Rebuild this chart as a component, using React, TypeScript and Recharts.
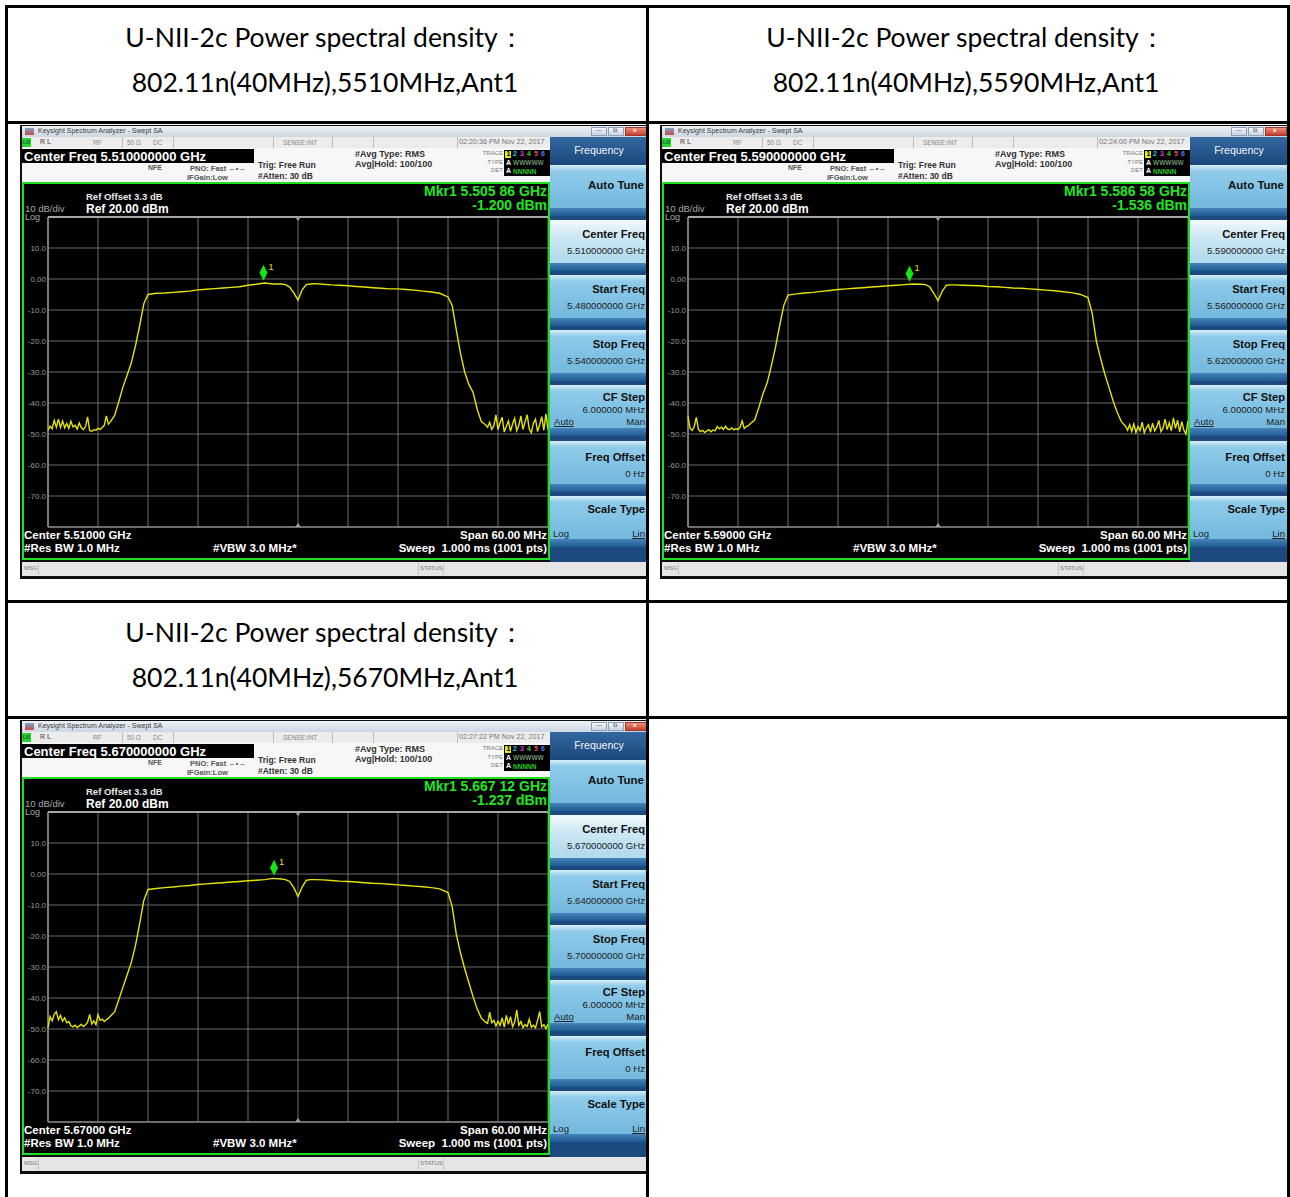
import React from 'react';
import { LineChart, Line, XAxis, YAxis, CartesianGrid, ReferenceDot, ReferenceLine } from 'recharts';

// frequency offsets from the centre, MHz (span 60 MHz)
const offsets = [
  -30, -29.75, -29.5, -29.25, -29, -28.75, -28.5, -28.25,
  -28, -27.75, -27.5, -27.25, -27, -26.75, -26.5, -26.25,
  -26, -25.75, -25.5, -25.25, -25, -24.75, -24.5, -24.25,
  -24, -23.75, -23.5, -23.25, -23, -22.75, -22.5,
  -22, -21.5, -21, -20.5, -20, -19.5, -19, -18.5, -18,
  -17, -16, -15, -14, -13, -12, -11, -10, -9, -8, -7, -6, -5, -4, -3, -2,
  -1.5, -1, -0.5, 0, 0.5, 1, 1.5,
  2, 3, 4, 5, 6, 7, 8, 9, 10, 11, 12, 13, 14, 15, 16, 17,
  18, 18.5, 19, 19.5, 20, 20.5, 21, 21.5, 22,
  22.5, 22.75, 23, 23.25, 23.5, 23.75, 24, 24.25, 24.5, 24.75,
  25, 25.25, 25.5, 25.75, 26, 26.25, 26.5, 26.75, 27, 27.25,
  27.5, 27.75, 28, 28.25, 28.5, 28.75, 29, 29.25, 29.5, 29.75, 30,
];

// dBm readings, 5510 MHz
const trace5510 = [
  -48.8, -47.5, -48.3, -45.6, -47.8, -45.2, -47.9, -45.8,
  -48.0, -46.6, -48.2, -45.9, -47.7, -47.2, -48.4, -46.4,
  -47.9, -48.6, -47.6, -44.5, -48.9, -49.1, -48.6, -48.8,
  -48.2, -48.5, -47.9, -47.2, -44.2, -46.8, -46.0,
  -44.0, -39.5, -34.8, -31.0, -27.0, -21.5, -15.0, -8.0, -5.0,
  -4.6, -4.5, -4.3, -4.1, -3.9, -3.5, -3.3, -3.1, -2.9, -2.7, -2.5, -2.0, -1.7, -1.3, -1.6, -1.6,
  -1.8, -2.6, -4.5, -6.8, -3.5, -1.8, -1.6,
  -1.5, -1.7, -1.9, -2.0, -2.2, -2.4, -2.6, -2.8, -3.0, -3.2, -3.2, -3.4, -3.6, -3.9, -4.2, -4.6,
  -5.8, -8.5, -16.5, -24.0, -30.0, -34.0, -36.5, -42.0, -46.0,
  -47.0, -47.8, -46.2, -48.5, -47.4, -43.8, -48.6, -46.4, -44.6, -49.4,
  -47.5, -45.8, -49.1, -46.8, -45.0, -48.9, -47.2, -44.2, -48.5, -46.0,
  -43.8, -48.4, -49.6, -46.5, -45.2, -49.2, -47.0, -44.4, -48.8, -43.5, -48.5,
];

// dBm readings, 5590 MHz
const trace5590 = [
  -44.3, -48.2, -48.8, -47.6, -44.6, -48.5, -49.2, -48.8,
  -49.5, -49.0, -48.6, -49.3, -48.7, -49.0, -47.6, -48.3,
  -47.8, -48.5, -47.5, -48.4, -48.6, -48.0, -48.7, -48.3,
  -48.5, -47.8, -45.8, -48.2, -47.6, -47.3, -46.6,
  -45.5, -41.5, -37.0, -33.5, -28.0, -22.0, -15.0, -8.5, -5.2,
  -4.8, -4.5, -4.3, -4.0, -3.7, -3.4, -3.2, -3.0, -2.8, -2.6, -2.4, -2.2, -2.0, -1.8, -1.6, -1.7,
  -1.8, -2.5, -4.6, -7.0, -4.0, -2.0, -1.9,
  -1.9, -2.0, -2.1, -2.2, -2.4, -2.5, -2.7, -2.9, -3.0, -3.2, -3.4, -3.6, -3.8, -4.1, -4.4, -4.9,
  -6.0, -11.0, -20.0, -25.5, -30.5, -34.8, -39.2, -43.0, -46.0,
  -47.5, -48.8, -47.0, -49.2, -46.8, -49.5, -47.6, -48.9, -46.2, -49.6,
  -48.0, -47.0, -49.4, -46.5, -49.0, -47.8, -45.6, -49.2, -48.1, -45.2,
  -48.6, -46.4, -49.0, -44.8, -48.2, -45.5, -49.3, -46.0, -48.7, -50.0, -45.8,
];

// dBm readings, 5670 MHz
const trace5670 = [
  -49.6, -46.0, -47.4, -45.2, -44.4, -47.0, -45.6, -47.5,
  -46.4, -48.0, -47.6, -48.9, -49.3, -48.8, -49.5, -49.0,
  -48.5, -49.2, -48.6, -47.9, -45.3, -48.4, -47.4, -48.6,
  -45.4, -47.2, -46.8, -47.6, -47.0, -46.6, -45.8,
  -44.5, -40.5, -36.5, -32.5, -28.5, -23.0, -16.0, -8.5, -5.0,
  -4.7, -4.4, -4.2, -3.9, -3.7, -3.4, -3.2, -3.0, -2.8, -2.6, -2.4, -2.2, -2.0, -1.8, -1.4, -1.6,
  -1.8, -2.4, -4.4, -7.3, -4.2, -2.0, -1.8,
  -1.8, -1.9, -2.1, -2.3, -2.4, -2.6, -2.8, -3.0, -3.1, -3.3, -3.5, -3.7, -3.9, -4.1, -4.4, -4.8,
  -6.0, -10.5, -19.5, -25.5, -30.5, -35.0, -39.5, -43.5, -46.5,
  -47.8, -48.2, -44.6, -48.0, -47.2, -49.0, -47.5, -48.8, -46.4, -49.4,
  -45.6, -48.5, -46.0, -49.2, -47.8, -43.9, -48.8, -47.6, -49.6, -48.6,
  -49.2, -46.8, -49.4, -48.8, -49.6, -47.2, -44.4, -49.3, -48.6, -49.9, -48.4,
];

const channels = ['5510', '5590', '5670'];
const centerFreqs = ['5.510000000', '5.590000000', '5.670000000'];
const startFreqs = ['5.480000000', '5.560000000', '5.640000000'];
const stopFreqs = ['5.540000000', '5.620000000', '5.700000000'];
const centerShort = ['5.51000', '5.59000', '5.67000'];
const timestamps = ['02:20:36 PM Nov 22, 2017', '02:24:00 PM Nov 22, 2017', '02:27:22 PM Nov 22, 2017'];
const markerFreqText = ['5.505 86', '5.586 58', '5.667 12'];
const markerOffsets = [-4.14, -3.42, -2.88];
const markerLevels = [-1.2, -1.536, -1.237];

const xTicks = [-30, -24, -18, -12, -6, 0, 6, 12, 18, 24, 30];
const yTicks = [20, 10, 0, -10, -20, -30, -40, -50, -60, -70, -80];

const rows = offsets.map((f, i) => ({
  f,
  t5510: trace5510[i],
  t5590: trace5590[i],
  t5670: trace5670[i],
}));

const SANS = "'Liberation Sans', Arial, sans-serif";

function T({ x, r, y, s, c, b, u, children }: any) {
  return (
    <div
      style={{
        position: 'absolute',
        left: x,
        right: r,
        top: y - s * 0.6,
        fontSize: s,
        lineHeight: `${s * 1.2}px`,
        color: c,
        fontWeight: b ? 700 : 400,
        textDecoration: u ? 'underline' : undefined,
        fontFamily: SANS,
        whiteSpace: 'nowrap',
      }}
    >
      {children}
    </div>
  );
}

const box = (left: number, top: number, width: number, height: number, background: string, extra: any = {}) => (
  <div style={{ position: 'absolute', left, top, width, height, background, ...extra }} />
);

function Key({ top, selected, children }: any) {
  return (
    <div
      style={{
        position: 'absolute',
        left: 0,
        top,
        width: 98,
        height: 51,
        background: selected
          ? 'linear-gradient(#f2fafd, #cfe9f5 30%, #b3dbee 75%)'
          : 'linear-gradient(#d8eef8, #8fcbea 12%, #74b9de 80%)',
      }}
    >
      <div style={{ position: 'absolute', left: 0, bottom: 0, width: 98, height: 8, background: 'linear-gradient(#4683ba, #1f5a93)' }} />
      {children}
    </div>
  );
}

function Marker(p: any) {
  const { cx, cy } = p;
  return (
    <g>
      <polygon points={`${cx},${cy - 2} ${cx + 4},${cy - 10} ${cx},${cy - 18} ${cx - 4},${cy - 10}`} fill="#16e316" />
      <text x={cx + 5} y={cy - 13} fill="#e6e600" fontSize={9} fontFamily={SANS}>1</text>
    </g>
  );
}

function TriDown(p: any) {
  const { cx, cy } = p;
  return <polygon points={`${cx - 3},${cy} ${cx + 3},${cy} ${cx},${cy + 4}`} fill="#9a9a9a" />;
}

function TriUp(p: any) {
  const { cx, cy } = p;
  return <polygon points={`${cx - 3},${cy} ${cx + 3},${cy} ${cx},${cy - 4}`} fill="#9a9a9a" />;
}

const fmtY = (v: number) => (v === 20 || v === -80 ? '' : v === 0 ? '0.00' : v.toFixed(1));

function Screen({ ox, oy, i }: { ox: number; oy: number; i: number }) {
  const key = 't' + channels[i];
  const gray = '#555';
  return (
    <div style={{ position: 'absolute', left: ox, top: oy, width: 629, height: 454, background: '#0d0d0d' }}>
      {/* window title bar */}
      <div style={{ position: 'absolute', left: 2, top: 1, width: 626, height: 11, background: 'linear-gradient(#eef2f7, #cdd6e2)' }}>
        {box(3, 2, 9, 7, 'linear-gradient(#7ea2cf, #c94a4a)')}
        <T x={16} y={5.5} s={7} c="#3a3a3a">Keysight Spectrum Analyzer - Swept SA</T>
        {box(569, 1, 16, 9, 'linear-gradient(#f3f6fa, #c9d4e2)', { border: '1px solid #8da0b8', boxSizing: 'border-box' })}
        {box(586, 1, 16, 9, 'linear-gradient(#f3f6fa, #c9d4e2)', { border: '1px solid #8da0b8', boxSizing: 'border-box' })}
        {box(603, 1, 22, 9, 'linear-gradient(#ee8b7a, #c9412e)', { border: '1px solid #9b3a2c', boxSizing: 'border-box' })}
        <T x={574} y={5} s={6} c="#445">—</T>
        <T x={591} y={5} s={6} c="#445">⧉</T>
        <T x={611} y={5} s={6} b c="#fff">x</T>
      </div>

      {/* status row */}
      <div style={{ position: 'absolute', left: 2, top: 12, width: 528, height: 11, background: '#ececec' }}>
        {box(0, 1, 9, 9, '#2bd22b')}
        <T x={1} y={5.5} s={4.5} b c="#063">LXI</T>
        <T x={18} y={5.5} s={7} b c="#777">R L</T>
        <T x={71} y={5.5} s={6.5} c="#888">RF</T>
        {box(100, 0, 1, 11, '#bdbdbd')}
        <T x={105} y={5.5} s={6.5} c="#888">50 Ω</T>
        <T x={131} y={5.5} s={6.5} c="#888">DC</T>
        {box(151, 0, 1, 11, '#bdbdbd')}
        {box(251, 0, 1, 11, '#bdbdbd')}
        <T x={261} y={5.5} s={6.5} c="#888">SENSE:INT</T>
        {box(310, 0, 1, 11, '#bdbdbd')}
        {box(351, 0, 1, 11, '#bdbdbd')}
        {box(435, 0, 1, 11, '#bdbdbd')}
        <T x={437} y={5.5} s={7.2} c="#777">{timestamps[i]}</T>
      </div>

      {/* info area */}
      {box(2, 23, 528, 34, '#f7f7f7')}
      {box(2, 24, 232, 14, '#000')}
      <T x={4} y={31.5} s={13} b c="#fff">Center Freq {centerFreqs[i]} GHz</T>
      <T x={128} y={43} s={7} b c={gray}>NFE</T>
      <T x={170} y={43} s={7.5} b c={gray}>PNO: Fast ←•→</T>
      <T x={167} y={52} s={7.5} b c={gray}>IFGain:Low</T>
      <T x={238} y={40} s={8.5} b c="#333">Trig: Free Run</T>
      <T x={238} y={51} s={8.5} b c="#333">#Atten: 30 dB</T>
      <T x={335} y={29} s={9} b c="#333">#Avg Type: RMS</T>
      <T x={335} y={39} s={9} b c="#333">Avg|Hold: 100/100</T>
      <T r={146} y={29} s={6} c="#777">TRACE</T>
      <T r={146} y={38} s={6} c="#777">TYPE</T>
      <T r={146} y={46} s={6} c="#777">DET</T>
      {box(484, 25, 46, 26, '#000')}
      {box(485, 25.5, 6, 7, '#e6e600')}
      <T x={486.5} y={29} s={7} b c="#000">1</T>
      <T x={493} y={29} s={7} b c="#21c8e6">2</T>
      <T x={500} y={29} s={7} b c="#d23cd2">3</T>
      <T x={507} y={29} s={7} b c="#3cd23c">4</T>
      <T x={514} y={29} s={7} b c="#e65050">5</T>
      <T x={521} y={29} s={7} b c="#5a78ff">6</T>
      <T x={486} y={38} s={7} b c="#fff">A</T>
      <T x={493} y={38} s={6.5} b c="#6c8f6c">WWWWW</T>
      <T x={486} y={46.5} s={7} b c="#fff">A</T>
      <T x={493} y={46.5} s={6.5} b c="#27c827">NNNNN</T>

      {/* measurement display */}
      <div style={{ position: 'absolute', left: 2, top: 57, width: 528, height: 378, background: '#000' }}>
        <LineChart width={528} height={378} data={rows} margin={{ top: 35, right: 2, bottom: 33, left: 0 }}>
          <CartesianGrid stroke="#6c6c6c" strokeWidth={1} />
          <XAxis dataKey="f" type="number" domain={[-30, 30]} ticks={xTicks} hide />
          <YAxis
            type="number"
            domain={[-80, 20]}
            ticks={yTicks}
            interval={0}
            width={26}
            axisLine={false}
            tickLine={false}
            tickSize={0}
            tickMargin={2}
            tick={{ fill: '#9a9a9a', fontSize: 8, fontFamily: SANS }}
            tickFormatter={fmtY}
          />
          <ReferenceLine y={20} stroke="#a6a6a6" strokeWidth={2} />
          <ReferenceLine x={-30} stroke="#909090" strokeWidth={1.5} />
          <ReferenceLine y={-80} stroke="#808080" strokeWidth={1.5} />
          <Line
            type="linear"
            dataKey={key}
            stroke="#e4e400"
            strokeWidth={1.4}
            dot={false}
            isAnimationActive={false}
          />
          <ReferenceDot x={0} y={20} r={0} shape={TriDown} />
          <ReferenceDot x={0} y={-80} r={0} shape={TriUp} />
          <ReferenceDot x={markerOffsets[i]} y={markerLevels[i]} r={0} shape={Marker} />
        </LineChart>
      </div>
      {box(2, 57, 528, 378, 'transparent', { border: '2px solid #1ee01e', boxSizing: 'border-box' })}
      <T x={66} y={72} s={9.5} b c="#e8e8e8">Ref Offset 3.3 dB</T>
      <T x={5} y={84} s={9.5} c="#a8a8a8">10 dB/div</T>
      <T x={66} y={84} s={12} b c="#fff">Ref 20.00 dBm</T>
      <T x={5} y={92.5} s={9} c="#a8a8a8">Log</T>
      <T r={102} y={66} s={14} b c="#22e622">Mkr1 {markerFreqText[i]} GHz</T>
      <T r={102} y={80} s={14} b c="#22e622">{markerLevels[i].toFixed(3)} dBm</T>
      <T x={4} y={411} s={11.5} b c="#fff">Center {centerShort[i]} GHz</T>
      <T x={4} y={424} s={11.5} b c="#fff">#Res BW 1.0 MHz</T>
      <T x={193} y={424} s={11.5} b c="#fff">#VBW 3.0 MHz*</T>
      <T r={102} y={411} s={11.5} b c="#fff">Span 60.00 MHz</T>
      <T r={102} y={424} s={11.5} b c="#fff">Sweep{'\u00a0\u00a0'}1.000 ms (1001 pts)</T>

      {/* message bar */}
      {box(2, 437, 626, 14, '#e7e4e8')}
      <T x={4} y={444} s={6} c="#777">MSG</T>
      {box(18, 438, 1, 12, '#c4c4c4')}
      {box(398, 438, 1, 12, '#c4c4c4')}
      <T x={400} y={444} s={6} c="#777">STATUS</T>
      {box(423, 438, 1, 12, '#c4c4c4')}

      {/* softkey panel */}
      <div style={{ position: 'absolute', left: 530, top: 12, width: 98, height: 425, background: '#1c4a7e' }}>
        <div style={{ position: 'absolute', left: 0, top: 0, width: 98, height: 26, background: 'linear-gradient(#3467a0, #1d4a7d)' }}>
          <div style={{ position: 'absolute', left: 0, top: 6.5, width: 98, textAlign: 'center', fontFamily: SANS, fontSize: 10.5, color: '#f0f4fa' }}>Frequency</div>
        </div>
        <Key top={28}>
          <T r={4} y={21} s={11.5} b c="#111">Auto Tune</T>
        </Key>
        <Key top={83} selected>
          <T r={3} y={15} s={11.2} b c="#111">Center Freq</T>
          <T r={3} y={31} s={9.6} c="#222">{centerFreqs[i]} GHz</T>
        </Key>
        <Key top={138}>
          <T r={3} y={15} s={11.2} b c="#111">Start Freq</T>
          <T r={3} y={31} s={9.6} c="#222">{startFreqs[i]} GHz</T>
        </Key>
        <Key top={193}>
          <T r={3} y={15} s={11.2} b c="#111">Stop Freq</T>
          <T r={3} y={31} s={9.6} c="#222">{stopFreqs[i]} GHz</T>
        </Key>
        <Key top={248}>
          <T r={3} y={13} s={11.2} b c="#111">CF Step</T>
          <T r={3} y={25} s={9.6} c="#222">6.000000 MHz</T>
          <T x={4} y={37} s={9.6} u c="#222">Auto</T>
          <T r={3} y={37} s={9.6} c="#222">Man</T>
        </Key>
        <Key top={304}>
          <T r={3} y={17} s={11.2} b c="#111">Freq Offset</T>
          <T r={3} y={33} s={9.6} c="#222">0 Hz</T>
        </Key>
        <Key top={359}>
          <T r={3} y={14} s={11.2} b c="#111">Scale Type</T>
          <T x={3} y={38} s={9.6} c="#222">Log</T>
          <T r={3} y={38} s={9.6} u c="#222">Lin</T>
        </Key>
      </div>
    </div>
  );
}

function Title({ cx, top, ch }: { cx: number; top: number; ch: string }) {
  const st: any = {
    position: 'absolute',
    left: cx - 320,
    width: 640,
    textAlign: 'center',
    fontFamily: "Lato, 'Open Sans', sans-serif",
    fontSize: 26.5,
    lineHeight: '32px',
    color: '#000',
    whiteSpace: 'nowrap',
  };
  return (
    <>
      <div style={{ ...st, top: top + 21 }}>U-NII-2c Power spectral density：</div>
      <div style={{ ...st, top: top + 66 }}>802.11n(40MHz),{ch}MHz,Ant1</div>
    </>
  );
}

export default function App() {
  const line = (left: number, top: number, width: number, height: number) => box(left, top, width, height, '#000');
  return (
    <div style={{ position: 'absolute', left: 0, top: 0, width: 1290, height: 1197, background: '#fff', overflow: 'hidden' }}>
      <Title cx={325} top={0} ch={channels[0]} />
      <Title cx={966} top={0} ch={channels[1]} />
      <Title cx={325} top={595} ch={channels[2]} />
      <Screen ox={20} oy={125} i={0} />
      <Screen ox={660} oy={125} i={1} />
      <Screen ox={20} oy={720} i={2} />
      {line(5, 5, 1285, 3)}
      {line(5, 5, 3, 1192)}
      {line(1287, 5, 3, 1192)}
      {line(646, 5, 3, 1192)}
      {line(5, 121, 1285, 3)}
      {line(5, 600, 1285, 3)}
      {line(5, 716, 1285, 3)}
    </div>
  );
}
